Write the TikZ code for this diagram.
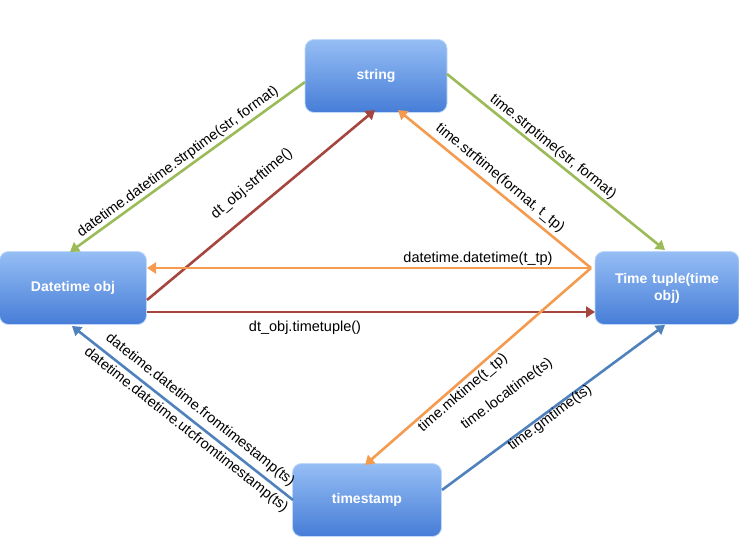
\documentclass[tikz,border=0pt]{standalone}
\usepackage{fontspec}
\setmainfont{Liberation Sans}
\usetikzlibrary{arrows.meta}
\definecolor{cg}{RGB}{155,187,89}
\definecolor{cr}{RGB}{165,70,62}
\definecolor{co}{RGB}{244,155,80}
\definecolor{cb}{RGB}{79,129,189}
\definecolor{bt}{RGB}{150,190,245}
\definecolor{bb}{RGB}{70,125,215}
\begin{document}
\begin{tikzpicture}[x=1pt,y=-1pt,
  box/.style={draw=bt!60!white,line width=0.8pt,rounded corners=9pt,top color=bt,bottom color=bb,text=white,font=\fontsize{14}{17}\selectfont\bfseries,align=center,minimum height=73pt,inner sep=2pt},
  con/.style={line width=2.6pt,-{Triangle[length=9pt,width=11pt]}},
  lab/.style={font=\fontsize{14.5}{17}\selectfont,inner sep=0pt}]
\useasboundingbox (0,0) rectangle (739,549);
\node[box,minimum width=142pt] (s) at (376,76) {string};
\node[box,minimum width=147pt] (d) at (73,288) {Datetime obj};
\node[box,minimum width=144pt,text width=125pt] (t) at (667,288) {Time tuple(time\\obj)};
\node[box,minimum width=149pt] (ts) at (367,500) {timestamp};
\coordinate (sL) at (305,82); \coordinate (sR) at (447,74);
\coordinate (sB1) at (375,110); \coordinate (sB2) at (398,110);
\coordinate (dT) at (70,252); \coordinate (dR1) at (147,268); \coordinate (dR2) at (147,312);
\coordinate (dR3) at (147,300); \coordinate (dB) at (72,326);
\coordinate (tT) at (665,250); \coordinate (tL1) at (591,268); \coordinate (tL2) at (595,312);
\coordinate (tB) at (665,325);
\coordinate (tsT) at (365,465); \coordinate (tsL) at (293,500); \coordinate (tsR) at (442,490);
\draw[con,cg] (sL) -- (dT);
\draw[con,cg] (sR) -- (tT);
\draw[con,cr] (dR3) -- (sB1);
\draw[con,co] (tL1) -- (sB2);
\draw[con,co] (tL1) -- (dR1);
\draw[con,cr] (dR2) -- (tL2);
\draw[con,co] (tL1) -- (tsT);
\draw[con,cb] (tsR) -- (tB);
\draw[con,cb] (tsL) -- (dB);
\node[lab,rotate=36.2] (l1) at (178,162) {datetime.datetime.strptime(str, format)};
\node[lab,rotate=-38.8] (l2) at (553,147) {time.strptime(str, format)};
\node[lab,rotate=39.8] (l3) at (252,184) {dt\_obj.strftime()};
\node[lab,rotate=-39.4] (l4) at (500,178) {time.strftime(format, t\_tp)};
\node[lab] (l5) at (478,259) {datetime.datetime(t\_tp)};
\node[lab] (l6) at (305,328) {dt\_obj.timetuple()};
\node[lab,rotate=40.6] (l7) at (463,393) {time.mktime(t\_tp)};
\node[lab,rotate=36.5] (l8) at (507,394) {time.localtime(ts)};
\node[lab,rotate=36.5] (l9) at (550,418) {time.gmtime(ts)};
\node[lab,rotate=-38.4] (l10) at (200,410) {datetime.datetime.fromtimestamp(ts)};
\node[lab,rotate=-38.4] (l11) at (186,430) {datetime.datetime.utcfromtimestamp(ts)};
\end{tikzpicture}
\end{document}
